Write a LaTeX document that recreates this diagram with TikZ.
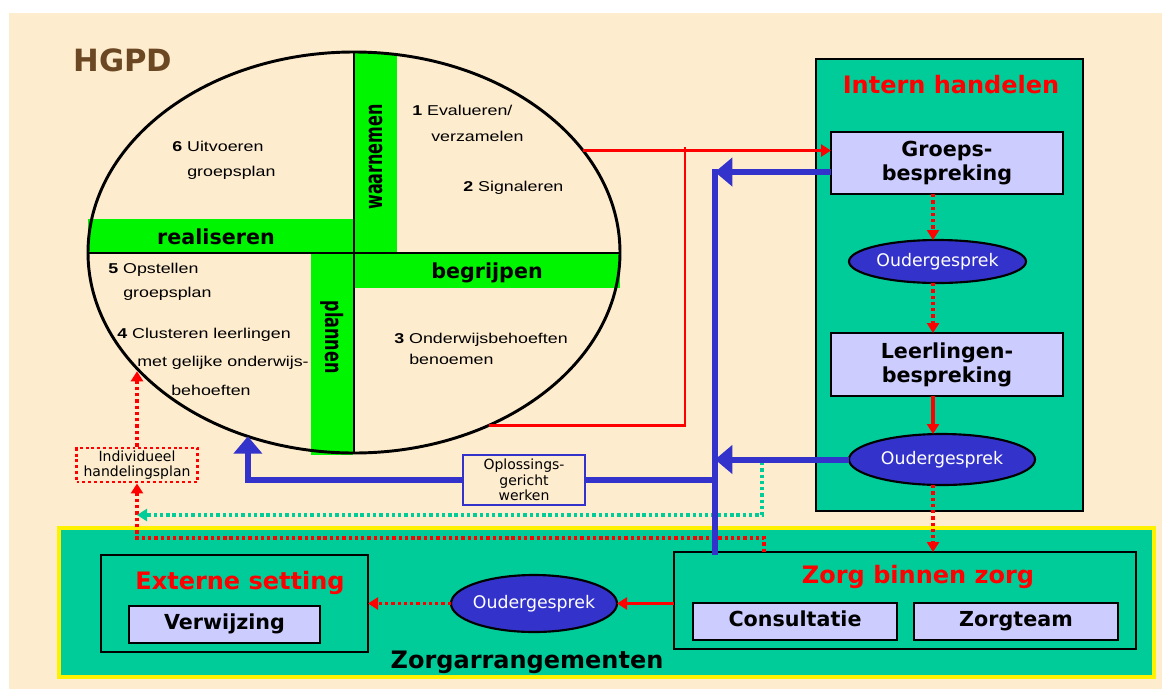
\documentclass[tikz,border=0pt]{standalone}
\usepackage{fontspec}
\usepackage{tikz}
\usetikzlibrary{shapes.geometric,arrows.meta}
\setmainfont[FakeStretch=1.25]{Liberation Sans}
\newfontfamily\comic{DejaVu Sans}
\definecolor{creamc}{RGB}{254,236,206}
\definecolor{barg}{RGB}{0,245,0}
\definecolor{tealc}{RGB}{0,204,153}
\definecolor{lav}{RGB}{204,204,255}
\definecolor{ogblue}{RGB}{51,51,204}
\definecolor{hgpdbrown}{RGB}{107,72,35}

\begin{document}
\begin{tikzpicture}[
    x=0.75pt, y=-0.75pt,
    panel/.style={draw=black, line width=2.2pt, fill=tealc, inner sep=0pt, outer sep=0pt},
    lbox/.style={draw=black, line width=2pt, fill=lav, inner sep=0pt, outer sep=0pt, align=center, font=\comic\bfseries\fontsize{15.5}{18}\selectfont},
    sbox/.style={lbox, text height=11.5pt, text depth=3.5pt},
    ogell/.style={ellipse, draw=black, line width=1.6pt, fill=ogblue, text=white, inner xsep=-6pt, inner ysep=0pt, outer sep=0pt, font=\comic\fontsize{13}{15}\selectfont},
    title/.style={text=red, font=\comic\bfseries\fontsize{18}{21}\selectfont},
    barlbl/.style={font=\comic\bfseries\fontsize{15.5}{18}\selectfont},
    vbarlbl/.style={font=\comic\bfseries\fontsize{12}{14}\selectfont},
    steptxt/.style={anchor=base west, inner sep=0pt, font=\fontsize{10.7}{13}\selectfont},
    redline/.style={draw=red, line width=2pt},
    reddot/.style={draw=red, line width=2.6pt, dash pattern=on 2.5pt off 2.2pt},
    tealdot/.style={draw=tealc, line width=2.6pt, dash pattern=on 2.5pt off 2.2pt},
    blueline/.style={draw=ogblue, line width=4.5pt},
    redarr/.style={-{Triangle[length=7.5pt,width=9pt]}},
    tealarr/.style={-{Triangle[length=7.5pt,width=9pt]}},
    bluearr/.style={-{Triangle[length=13pt,width=21pt]}}
]
\useasboundingbox (0,0) rectangle (1162,689);
\fill[creamc] (9,13) rectangle (1162,689);

\node[font=\comic\bfseries\fontsize{23}{26}\selectfont, text=hgpdbrown] (hgpd) at (123,60) {HGPD};

% cycle: green bars, cross, ring
\fill[barg] (355,53) rectangle (397,253);
\fill[barg] (88,219) rectangle (353,253);
\fill[barg] (355,253) rectangle (620,288);
\fill[barg] (311,253) rectangle (353,455);
\draw[line width=2pt] (354,52) -- (354,453);
\draw[line width=2pt] (88,253) -- (620,253);
\node[ellipse, draw=black, line width=2.2pt, minimum width=399pt, minimum height=300.75pt, inner sep=0pt, outer sep=0pt] (ring) at (354,252.5) {};

\node[barlbl] (lreal) at (216,237) {realiseren};
\node[barlbl] (lbegr) at (487,273) {begrijpen};
\node[vbarlbl, rotate=90] (lwaar) at (376,157) {\scalebox{1}[1.5]{waarnemen}};
\node[vbarlbl, rotate=-90] (lplan) at (332,337) {\scalebox{1}[1.5]{plannen}};

% steps
\node[steptxt] (s6a) at (172,151) {\textbf{6} Uitvoeren};
\node[steptxt] (s6b) at (187,176) {groepsplan};
\node[steptxt] (s1a) at (412,115) {\textbf{1} Evalueren/};
\node[steptxt] (s1b) at (431,141) {verzamelen};
\node[steptxt] (s2) at (463,191) {\textbf{2} Signaleren};
\node[steptxt] (s5a) at (108,273) {\textbf{5} Opstellen};
\node[steptxt] (s5b) at (123,297) {groepsplan};
\node[steptxt] (s4a) at (117,338) {\textbf{4} Clusteren leerlingen};
\node[steptxt] (s4b) at (137,366) {met gelijke onderwijs-};
\node[steptxt] (s4c) at (171,395) {behoeften};
\node[steptxt] (s3a) at (394,343) {\textbf{3} Onderwijsbehoeften};
\node[steptxt] (s3b) at (409,364) {benoemen};

% intern handelen
\node[panel, minimum width=200.25pt, minimum height=339pt] (intern) at (949.5,285) {};
\node[title] (interntitle) at (951,85) {Intern handelen};
\node[lbox, minimum width=174pt, minimum height=46.5pt] (groeps) at (947,163) {Groeps-\\bespreking};
\node[ogell, minimum width=132.75pt, minimum height=32.25pt] (og1) at (937.5,261.5) {Oudergesprek};
\node[lbox, minimum width=174pt, minimum height=47.25pt] (leerl) at (947,364.5) {Leerlingen-\\bespreking};
\node[ogell, minimum width=139.5pt, minimum height=38.25pt] (og2) at (942,459.5) {Oudergesprek};

% zorgarrangementen
\node[panel, draw=yellow, line width=2.5pt, minimum width=821.25pt, minimum height=111.75pt] (zorgarr) at (606.5,602.5) {};
\node[font=\comic\bfseries\fontsize{18}{21}\selectfont] (zorgarrlbl) at (527,662) {Zorgarrangementen};
\node[panel, minimum width=200.25pt, minimum height=72.75pt] (extern) at (234.5,603.5) {};
\node[title] (externtitle) at (240,583) {Externe setting};
\node[sbox, minimum width=143.25pt, minimum height=27.75pt] (verw) at (224.5,624.5) {Verwijzing};
\node[ogell, minimum width=124.5pt, minimum height=42.75pt] (og3) at (534,603.5) {Oudergesprek};
\node[panel, minimum width=346.5pt, minimum height=72.75pt] (zbz) at (905,600.5) {};
\node[title] (zbztitle) at (918,577) {Zorg binnen zorg};
\node[sbox, minimum width=153pt, minimum height=27.75pt] (consult) at (795,621.5) {Consultatie};
\node[sbox, minimum width=153pt, minimum height=27.75pt] (zteam) at (1016,621.5) {Zorgteam};

% loose boxes
\node[draw=ogblue, line width=2.2pt, fill=creamc, minimum width=91.5pt, minimum height=37.5pt, inner sep=1pt, align=center, font=\comic\fontsize{10.5}{11.6}\selectfont] (opl) at (524,480) {Oplossings-\\gericht\\werken};
\node[draw=red, line width=2.2pt, dash pattern=on 2.2pt off 2.2pt, fill=creamc, minimum width=90.75pt, minimum height=25.5pt, inner sep=1pt, align=center, font=\comic\fontsize{10.5}{11.3}\selectfont] (ihp) at (137,465) {Individueel\\handelingsplan};

\coordinate (ax) at (933,0);
\coordinate (jn) at (685,147);
\coordinate (btop) at (715,172);
\coordinate (rd) at (764,538);
\coordinate (td) at (762,462);
\coordinate (tl) at (762,515);

% red flow
\draw[redline, redarr] (ring.24.6) -- (ring.24.6 -| groeps.west);
\draw[redline] (ring.-52.5) -| (jn);
\draw[reddot, redarr] (groeps.south -| ax) -- (og1.north -| ax);
\draw[reddot, redarr] (og1.south -| ax) -- (leerl.north -| ax);
\draw[redline, line width=2.5pt, redarr] (leerl.south -| ax) -- (og2.north -| ax);
\draw[reddot, redarr] (og2.south -| ax) -- (zbz.north -| ax);
\draw[redline, redarr] (zbz.west |- og3.east) -- (og3.east);
\draw[reddot, redarr] (og3.west) -- (extern.east);
\draw[reddot, redarr] (zbz.north -| rd) -- (rd) -| (ihp.south);
\draw[reddot, redarr] (ihp.north) -- (ihp.north |- ring.-151.9);

% teal
\draw[tealdot, tealarr] (td) -- (tl) -- (tl -| ihp.south);

% blue
\draw[blueline, line cap=rect] (zbz.north -| btop) -- (btop);
\draw[blueline, bluearr] (groeps.west |- btop) -- (btop);
\draw[blueline, bluearr] (og2.west) -- (og2.west -| btop);
\draw[blueline] (opl.east -| btop) -- (opl.east);
\draw[blueline, bluearr] (opl.west) -| (ring.-120.9);
\end{tikzpicture}
\end{document}
